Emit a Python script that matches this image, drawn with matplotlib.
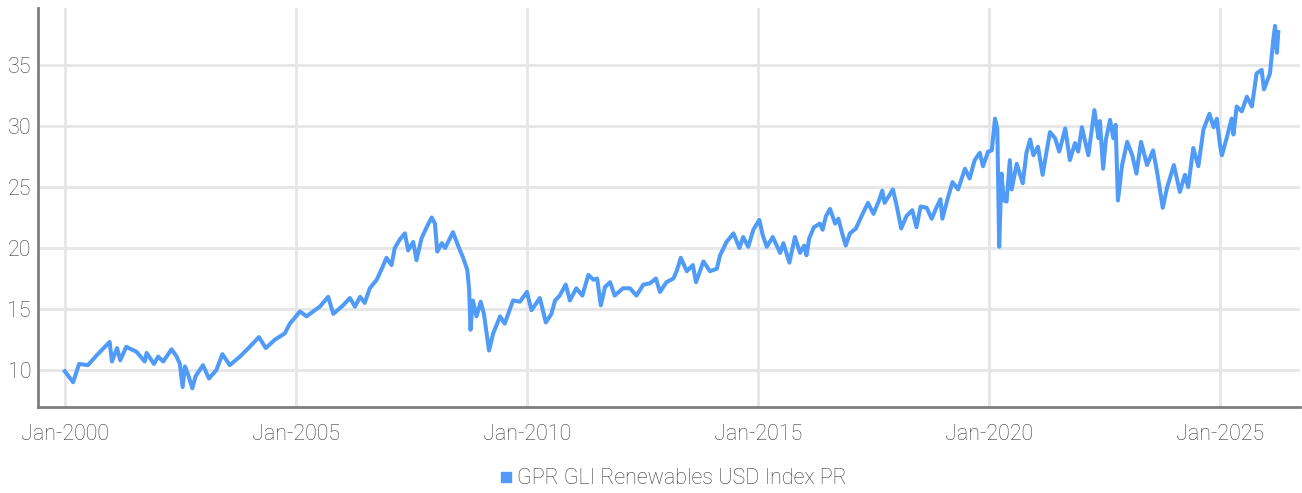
import numpy as np
import pandas as pd
import matplotlib
matplotlib.use("Agg")
import matplotlib.pyplot as plt
from matplotlib.lines import Line2D

# ------------ DATA --------------------------------------
years = [
    2000.0, 2000.18, 2000.31, 2000.5, 2000.69, 2000.79, 2000.97, 2001.02, 2001.13, 2001.2,
    2001.33, 2001.55, 2001.73, 2001.77, 2001.93, 2002.02, 2002.13, 2002.31, 2002.42, 2002.49,
    2002.55, 2002.6, 2002.67, 2002.76, 2002.83, 2002.99, 2003.12, 2003.28, 2003.41, 2003.57,
    2003.79, 2004.0, 2004.2, 2004.35, 2004.55, 2004.76, 2004.87, 2005.09, 2005.23, 2005.52,
    2005.7, 2005.81, 2006.02, 2006.17, 2006.28, 2006.39, 2006.49, 2006.6, 2006.75, 2006.86,
    2006.96, 2007.07, 2007.14, 2007.25, 2007.36, 2007.43, 2007.54, 2007.61, 2007.72, 2007.83,
    2007.94, 2008.01, 2008.06, 2008.16, 2008.23, 2008.4, 2008.51, 2008.62, 2008.71, 2008.75,
    2008.78, 2008.83, 2008.91, 2009.0, 2009.07, 2009.18, 2009.27, 2009.42, 2009.52, 2009.7,
    2009.85, 2010.0, 2010.1, 2010.28, 2010.41, 2010.53, 2010.61, 2010.71, 2010.84, 2010.93,
    2011.07, 2011.2, 2011.33, 2011.44, 2011.52, 2011.6, 2011.69, 2011.8, 2011.9, 2012.08,
    2012.23, 2012.37, 2012.52, 2012.66, 2012.79, 2012.88, 2013.02, 2013.17, 2013.24, 2013.33,
    2013.46, 2013.59, 2013.66, 2013.82, 2013.96, 2014.11, 2014.18, 2014.32, 2014.47, 2014.6,
    2014.68, 2014.79, 2014.9, 2015.03, 2015.1, 2015.19, 2015.32, 2015.48, 2015.55, 2015.68,
    2015.8, 2015.91, 2016.0, 2016.05, 2016.11, 2016.21, 2016.34, 2016.4, 2016.47, 2016.56,
    2016.67, 2016.74, 2016.83, 2016.9, 2016.99, 2017.12, 2017.24, 2017.38, 2017.5, 2017.62,
    2017.69, 2017.74, 2017.84, 2017.92, 2018.0, 2018.1, 2018.21, 2018.34, 2018.43, 2018.52,
    2018.65, 2018.76, 2018.86, 2018.95, 2018.99, 2019.11, 2019.21, 2019.33, 2019.48, 2019.58,
    2019.69, 2019.8, 2019.87, 2019.98, 2020.06, 2020.13, 2020.18, 2020.22, 2020.27, 2020.32,
    2020.38, 2020.45, 2020.49, 2020.6, 2020.73, 2020.81, 2020.89, 2020.96, 2021.06, 2021.16,
    2021.25, 2021.32, 2021.43, 2021.52, 2021.65, 2021.75, 2021.86, 2021.93, 2022.01, 2022.15,
    2022.28, 2022.37, 2022.4, 2022.47, 2022.53, 2022.62, 2022.69, 2022.74, 2022.79, 2022.88,
    2022.99, 2023.1, 2023.19, 2023.29, 2023.42, 2023.55, 2023.63, 2023.76, 2023.85, 2024.0,
    2024.13, 2024.24, 2024.31, 2024.42, 2024.53, 2024.64, 2024.77, 2024.86, 2024.93, 2025.0,
    2025.04, 2025.15, 2025.25, 2025.29, 2025.36, 2025.47, 2025.58, 2025.69, 2025.79, 2025.9,
    2025.95, 2026.08, 2026.15, 2026.19, 2026.23, 2026.26,
]
index_values = [
    9.9, 9.0, 10.5, 10.4, 11.2, 11.6, 12.3, 10.7, 11.8, 10.8,
    11.9, 11.5, 10.7, 11.4, 10.5, 11.1, 10.7, 11.7, 11.1, 10.5,
    8.6, 10.3, 9.6, 8.5, 9.5, 10.4, 9.3, 10.0, 11.3, 10.4,
    11.1, 11.9, 12.7, 11.8, 12.5, 13.0, 13.8, 14.8, 14.4, 15.2,
    16.0, 14.6, 15.3, 15.9, 15.2, 16.0, 15.5, 16.7, 17.4, 18.3,
    19.2, 18.6, 20.0, 20.7, 21.2, 19.8, 20.5, 19.0, 20.8, 21.7,
    22.5, 22.0, 19.7, 20.4, 20.0, 21.3, 20.2, 19.2, 18.2, 16.6,
    13.3, 15.7, 14.4, 15.6, 14.6, 11.6, 13.0, 14.4, 13.8, 15.7,
    15.6, 16.4, 14.9, 15.9, 13.9, 14.6, 15.7, 16.1, 17.0, 15.7,
    16.7, 16.1, 17.8, 17.4, 17.5, 15.3, 16.8, 17.2, 16.1, 16.7,
    16.7, 16.1, 17.0, 17.1, 17.5, 16.4, 17.2, 17.5, 18.1, 19.2,
    18.1, 18.6, 17.2, 18.9, 18.1, 18.3, 19.4, 20.5, 21.2, 20.0,
    20.9, 20.1, 21.5, 22.3, 21.1, 20.1, 20.9, 19.6, 20.4, 18.8,
    20.9, 19.6, 20.2, 19.4, 20.8, 21.7, 22.0, 21.5, 22.6, 23.2,
    22.0, 22.4, 21.1, 20.2, 21.2, 21.6, 22.6, 23.7, 22.8, 23.9,
    24.7, 23.7, 24.3, 24.8, 23.5, 21.6, 22.6, 23.1, 21.7, 23.4,
    23.3, 22.4, 23.3, 24.0, 22.4, 24.1, 25.4, 24.8, 26.5, 25.7,
    27.2, 27.8, 26.7, 27.9, 28.0, 30.6, 29.8, 20.1, 26.1, 23.9,
    23.8, 27.2, 24.8, 26.9, 25.3, 27.8, 28.9, 27.6, 28.3, 26.0,
    28.0, 29.5, 29.0, 27.9, 29.8, 27.2, 28.6, 27.9, 29.9, 27.6,
    31.3, 29.0, 30.4, 26.5, 28.9, 30.5, 29.0, 30.1, 23.9, 26.8,
    28.7, 27.6, 26.1, 28.7, 26.8, 28.0, 26.4, 23.3, 24.9, 26.8,
    24.6, 26.0, 25.0, 28.2, 26.7, 29.7, 31.0, 29.9, 30.6, 28.4,
    27.6, 29.1, 30.6, 29.3, 31.6, 31.2, 32.4, 31.6, 34.3, 34.6,
    33.0, 34.3, 37.0, 38.2, 36.0, 37.7,
]
series_name = "GPR GLI Renewables USD Index PR"
tick_years = [2000, 2005, 2010, 2015, 2020, 2025]
tick_labels = ["Jan-2000", "Jan-2005", "Jan-2010", "Jan-2015", "Jan-2020", "Jan-2025"]
y_ticks = [10, 15, 20, 25, 30, 35]
# ---------------------------------------------------------


def to_dates(yrs):
    yrs = np.asarray(yrs, dtype=float)
    base = pd.Timestamp("2000-01-01")
    return base + pd.to_timedelta((yrs - 2000) * 365.25, unit="D")


plt.rcParams["font.family"] = ["Roboto", "DejaVu Sans"]
plt.rcParams["font.weight"] = "light"

LINE_COLOR = "#4f9bf7"
TEXT_COLOR = "#3c3c3c"
GRID_COLOR = "#e6e6e6"
SPINE_COLOR = "#7f7f7f"

fig = plt.figure(figsize=(13.02, 4.93), dpi=100)
ax = fig.add_axes([38 / 1302, 1 - 407 / 493, (1300 - 38) / 1302, (407 - 8) / 493])

ax.plot(to_dates(years), index_values, color=LINE_COLOR, lw=2.9, solid_joinstyle="round")

ax.set_xlim(to_dates([1999.42])[0], to_dates([2026.73])[0])
ax.set_ylim(6.97, 39.67)

ax.set_xticks(to_dates(tick_years))
ax.set_xticklabels(tick_labels)
ax.set_yticks(y_ticks)

ax.grid(True, color=GRID_COLOR, lw=2)
ax.set_axisbelow(True)
ax.tick_params(axis="both", length=0, labelsize=15.5, colors=TEXT_COLOR)
ax.tick_params(axis="x", pad=12)
ax.tick_params(axis="y", pad=5)

for side in ["top", "right"]:
    ax.spines[side].set_visible(False)
for side in ["left", "bottom"]:
    ax.spines[side].set_color(SPINE_COLOR)
    ax.spines[side].set_linewidth(2)

handle = Line2D([], [], color=LINE_COLOR, marker="s", linestyle="none", markersize=7)
fig.legend([handle], [series_name], loc="center", bbox_to_anchor=(672 / 1302, 1 - 479 / 493),
           frameon=False, fontsize=15.5, labelcolor=TEXT_COLOR, handletextpad=0.1,
           handlelength=0.8)

fig.savefig("out.png", dpi=100)
